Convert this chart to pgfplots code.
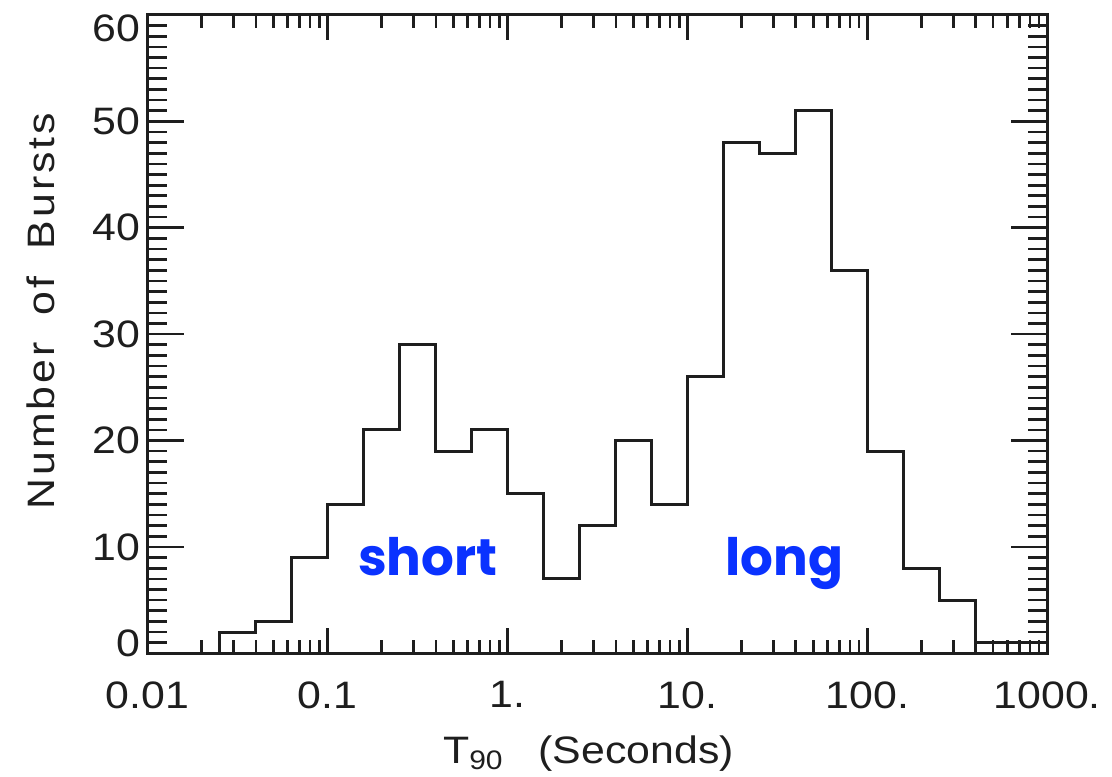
\documentclass[border=0pt]{standalone}
\usepackage{fontspec}
\setmainfont{Liberation Sans}[FakeStretch=1.12, WordSpace=1.8]
\newfontfamily\labfont{Poppins}
\usepackage{pgfplots}
\usepackage{pgfplotstable}
\pgfplotsset{compat=1.18}

\definecolor{ink}{RGB}{30,30,30}
\definecolor{burstblue}{RGB}{10,50,255}

% left bin edge (s) and counts, 5 bins per decade
\pgfplotstableread{
t n
0.01 0
0.02512 2
0.03981 3
0.06310 9
0.1 14
0.1585 21
0.2512 29
0.3981 19
0.6310 21
1 15
1.585 7
2.512 12
3.981 20
6.310 14
10 26
15.85 48
25.12 47
39.81 51
63.10 36
100 19
158.5 8
251.2 5
398.1 1
631.0 1
1000 0
}\hist

\newcommand{\tfont}{\fontsize{11.5}{13}\selectfont}

\begin{document}
\begin{tikzpicture}
% x axis, ticks and histogram
\begin{axis}[name=A,
  scale only axis, width=270.6pt, height=192pt,
  xmode=log, xmin=0.01, xmax=1000, ymin=0, ymax=60,
  axis line style={ink, line width=0.9pt},
  tick align=inside,
  tick style={ink, line width=0.8pt},
  tick label style={font=\tfont, text=ink},
  label style={font=\tfont, text=ink},
  xtick={0.01,0.1,1,10,100,1000},
  xticklabels={0.01,0.1,1.,10.,100.,1000.},
  xticklabel style={yshift=-5pt},
  ytick=\empty,
  major tick length=7.5pt, minor tick length=4pt,
  xlabel={T\textsubscript{90}\hspace{0.9em}(Seconds)},
  xlabel style={at={(ticklabel cs:0.49)}, inner sep=0pt, yshift=-4.5pt},
]
\addplot[const plot mark left, ink, line width=0.9pt] table[x=t, y=n] {\hist};
\node[font=\labfont\bfseries\fontsize{15.5}{17}\selectfont, text=burstblue, anchor=base]
  at (axis cs:0.36,7.3) {short};
\node[font=\labfont\bfseries\fontsize{15.5}{17}\selectfont, text=burstblue, anchor=base]
  at (axis cs:34.5,7.3) {long};
\end{axis}
% y axis ticks, longer as in the original
\begin{axis}[name=B,
  scale only axis, width=270.6pt, height=192pt,
  xmin=0, xmax=1, ymin=0, ymax=60,
  axis line style={ink, line width=0.9pt},
  tick align=inside,
  tick style={ink, line width=0.8pt},
  tick label style={font=\tfont, text=ink},
  label style={font=\tfont, text=ink},
  xtick=\empty,
  ytick={0,10,20,30,40,50,60},
  yticklabels={\raisebox{-1.1pt}[0pt][0pt]{0},10,20,30,40,50,\raisebox{-8pt}[0pt][0pt]{60}},
  yticklabel style={xshift=1.2pt},
  minor y tick num=9,
  major tick length=11pt, minor tick length=5.7pt,
  ylabel={\addfontfeatures{LetterSpace=8}Number of Bursts},
  ylabel style={at={(ticklabel cs:0.536)}, yshift=4.5pt},
]
\end{axis}
\path ([shift={(-44.4pt,-37.2pt)}]B.south west) rectangle ([shift={(18.6pt,4.5pt)}]B.north east);
\end{tikzpicture}
\end{document}
